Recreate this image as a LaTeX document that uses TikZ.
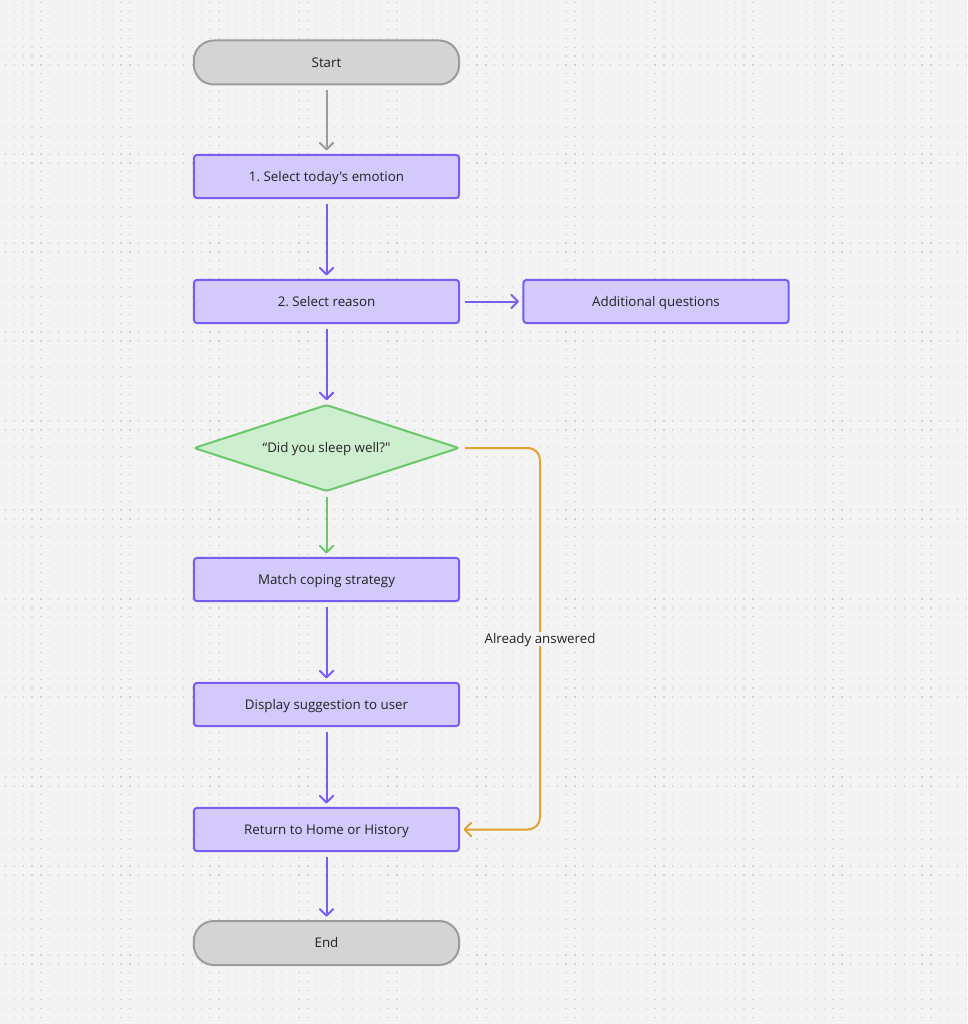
\documentclass[tikz,border=0pt]{standalone}
\usepackage{fontspec}
\newfontfamily\flowfont{Open Sans}
\usetikzlibrary{shapes.geometric, arrows.meta, positioning, calc}

\definecolor{bgcol}{HTML}{F3F3F3}
\definecolor{dotcol}{HTML}{D2D2D2}
\definecolor{txtcol}{HTML}{222222}
\definecolor{procfill}{HTML}{D3C9FA}
\definecolor{procline}{HTML}{7B5CF2}
\definecolor{termfill}{HTML}{D4D4D4}
\definecolor{termline}{HTML}{9C9C9C}
\definecolor{decfill}{HTML}{CEEFCF}
\definecolor{decline}{HTML}{6CC66C}
\definecolor{skipline}{HTML}{E3A130}

\tikzset{
    base/.style={text=txtcol, font=\flowfont\fontsize{10}{12}\selectfont, line width=1.5pt, inner sep=0pt, text height=7.2pt, text depth=0pt},
    termbox/.style={base, draw=termline, fill=termfill, minimum width=199pt, minimum height=33pt, rounded corners=15pt},
    procbox/.style={base, draw=procline, fill=procfill, minimum width=199pt, minimum height=32.5pt, rounded corners=2.5pt},
    decbox/.style={base, diamond, shape aspect=3, draw=decline, fill=decfill, minimum width=199pt, minimum height=65pt, rounded corners=2pt},
    flow/.style={line width=1.5pt, shorten <=3.5pt, shorten >=2.5pt, -{Straight Barb[length=5pt,width=10pt,line cap=round,line join=round]}}
}

\begin{document}
\begin{tikzpicture}[x=0.75pt, y=-0.75pt]
% background and dot grid
\fill[bgcol] (0,0) rectangle (967,1024);
\useasboundingbox (0,0) rectangle (967,1024);
\foreach \y in {2.7,11.6,...,1024} {
    \draw[dotcol, line width=0.9pt, dash pattern=on 0.9pt off 5.775pt] (4.7,\y) -- (967,\y);
}

% nodes
\node[termbox] (start) at (326.5,62.5) {Start};
\node[procbox] (emotion) at (326.5,176.5) {1.\ Select today's emotion};
\node[procbox] (reason) at (326.5,301.5) {2.\ Select reason};
\node[procbox] (extra) at (656,301.5) {Additional questions};
\node[decbox] (sleep) at (326.5,448) {“Did you sleep well?"};
\node[procbox] (match) at (326.5,579.5) {Match coping strategy};
\node[procbox] (suggest) at (326.5,704.5) {Display suggestion to user};
\node[procbox] (ret) at (326.5,829.5) {Return to Home or History};
\node[termbox] (finish) at (326.5,943) {End};

% connectors
\draw[flow, termline] (start) -- (emotion);
\draw[flow, procline] (emotion) -- (reason);
\draw[flow, procline] (reason) -- (extra);
\draw[flow, procline] (reason) -- (sleep);
\draw[flow, decline] (sleep) -- (match);
\draw[flow, procline] (match) -- (suggest);
\draw[flow, procline] (suggest) -- (ret);
\draw[flow, procline] (ret) -- (finish);

% skip path
\coordinate (skip) at (540,639);
\draw[flow, skipline, rounded corners=9pt] (sleep.east) -| (skip) |- (ret.east);
\node[base, fill=bgcol, inner sep=2pt] (answered) at (skip) {Already answered};
\end{tikzpicture}
\end{document}
